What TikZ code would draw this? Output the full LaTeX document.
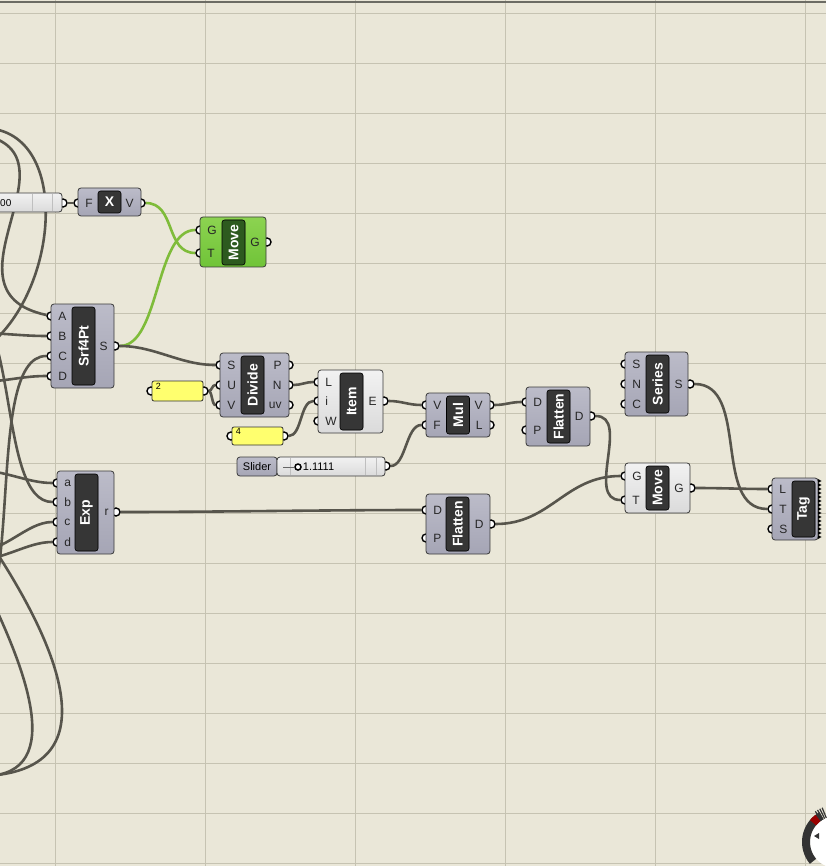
\documentclass[tikz,border=0pt]{standalone}
\usepackage{fontspec}
\setmainfont{Liberation Sans}
\usepackage{tikz}
\usetikzlibrary{positioning,calc}
\definecolor{canvas}{HTML}{EAE7D8}
\definecolor{gridc}{HTML}{C6C3B2}
\definecolor{topedge}{HTML}{6C6C64}
\definecolor{wirec}{HTML}{57554C}
\definecolor{wireg}{HTML}{7FBC3A}
\definecolor{capc}{HTML}{363636}
\definecolor{capgreen}{HTML}{2D5A1F}
\definecolor{bodyedge}{HTML}{3A3A3A}
\definecolor{bodyhi}{HTML}{E6E6EC}
\definecolor{bodytop}{HTML}{BDBDCA}
\definecolor{bodybot}{HTML}{9A9AAB}
\definecolor{lbodytop}{HTML}{F4F4F4}
\definecolor{lbodybot}{HTML}{CFCFCF}
\definecolor{greenhi}{HTML}{C6F08E}
\definecolor{greentop}{HTML}{8ED452}
\definecolor{greenbot}{HTML}{62BC2C}
\definecolor{panely}{HTML}{FFFF6E}
\pgfdeclareverticalshading{bodysh}{100bp}{color(0bp)=(bodybot); color(78bp)=(bodytop); color(88bp)=(bodyhi); color(100bp)=(bodyhi)}
\pgfdeclareverticalshading{lbodysh}{100bp}{color(0bp)=(lbodybot); color(80bp)=(lbodytop); color(100bp)=(white)}
\pgfdeclareverticalshading{gbodysh}{100bp}{color(0bp)=(greenbot); color(78bp)=(greentop); color(88bp)=(greenhi); color(100bp)=(greenhi)}
\pgfdeclarehorizontalshading{capsh}{100bp}{color(0bp)=(capc); color(84bp)=(capc); color(92bp)=(capc!60!white); color(100bp)=(capc!45!white)}
\pgfdeclarehorizontalshading{capgsh}{100bp}{color(0bp)=(capgreen); color(84bp)=(capgreen); color(92bp)=(capgreen!60!white); color(100bp)=(capgreen!45!white)}
\pgfdeclarelayer{grid}
\pgfdeclarelayer{wires}
\pgfdeclarelayer{ports}
\pgfsetlayers{grid,wires,ports,main}
\newcommand{\pt}[3]{\begin{pgfonlayer}{ports}\node[port] (#1) at (#2,#3) {};\end{pgfonlayer}}
\newcommand{\inp}[4]{\pt{#1}{#2}{#3}\node[plbl, right=2pt of #1] (#1-t) {#4};}
\newcommand{\outp}[4]{\pt{#1}{#2}{#3}\node[plbl, left=2pt of #1] (#1-t) {#4};}

\begin{document}
\begin{tikzpicture}[
  x=1pt, y=-1pt,
  body/.style={draw=bodyedge, line width=0.8pt, rounded corners=3pt, shade, shading=bodysh, inner sep=0},
  lbody/.style={body, shading=lbodysh},
  gbody/.style={body, shading=gbodysh},
  capsbase/.style={draw=black, line width=0.6pt, rounded corners=2.5pt, fill=capc, inner sep=0, text=white, font=\fontsize{14}{14}\selectfont\bfseries},
  capsule/.style={capsbase, shade, shading=capsh, rotate=90, minimum height=23},
  port/.style={circle, minimum size=8pt, inner sep=0, fill=white, draw=black, line width=1.4pt},
  plbl/.style={inner sep=0.5pt, font=\fontsize{12}{12}\selectfont, text=black!85},
  ptxt/.style={inner sep=0, font=\fontsize{9}{9}\selectfont},
  panel/.style={draw=black!80, line width=0.8pt, rounded corners=2pt, fill=panely, inner sep=0},
  grip/.style={circle, minimum size=6pt, inner sep=0, fill=white, draw=black, line width=1.5pt},
  tickln/.style={draw=black!25, line width=0.6pt},
  wire/.style={draw=wirec, line width=2.6pt},
  gwire/.style={wire, draw=wireg},
  ghw/.style={to path={.. controls +(#1,0) and +(-#1,0) .. (\tikztotarget) \tikztonodes}},
  ghw/.default=30
]
\useasboundingbox (0,0) rectangle (826,866);
\begin{pgfonlayer}{grid}
\fill[canvas] (0,0) rectangle (826,866);
\foreach \gx in {55,205,...,805} \draw[gridc, line width=0.8pt] (\gx,0) -- (\gx,866);
\foreach \gy in {13,63,...,863} \draw[gridc, line width=0.8pt] (0,\gy) -- (826,\gy);
\draw[topedge, line width=2pt] (0,2.5) -- (826,2.5);
\end{pgfonlayer}

% slider, expression, green move
\node[lbody, minimum width=102, minimum height=19] (sl0) at (11,202.5) {};
\draw[tickln] (32,194) -- (32,211);
\draw[tickln] (52,194) -- (52,211);
\node[anchor=west, inner sep=0, font=\fontsize{10}{10}\selectfont] (sl0-t) at (0,203) {00};
\pt{sl0-o}{63}{203}

\node[body, minimum width=63, minimum height=28] (expx) at (109.5,202) {};
\node[capsbase, minimum width=23, minimum height=22] (expx-c) at (109.5,202) {X};
\inp{expx-iF}{78}{203}{F}
\outp{expx-oV}{141}{203}{V}

\node[gbody, minimum width=66, minimum height=50] (mova) at (233,242) {};
\node[capsule, shading=capgsh, minimum width=45] (mova-c) at (233.5,242.5) {Move};
\inp{mova-iG}{200}{230}{G}
\inp{mova-iT}{200}{253}{T}
\outp{mova-oG}{267}{242}{G}

% surface, divide, item, mul
\node[body, minimum width=63, minimum height=84] (srf) at (82.5,346) {};
\node[capsule, minimum width=78] (srf-c) at (83.5,346) {Srf4Pt};
\foreach \n/\y in {A/316,B/336,C/356,D/376} {\inp{srf-i\n}{51}{\y}{\n}}
\outp{srf-oS}{115}{346}{S}

\node[body, minimum width=69, minimum height=64] (div) at (254.5,385) {};
\node[capsule, minimum width=58] (div-c) at (252.5,385) {Divide};
\foreach \n/\y in {S/365,U/385,V/405} {\inp{div-i\n}{220}{\y}{\n}}
\foreach \n/\y in {P/365,N/385,uv/405} {\outp{div-o\n}{289}{\y}{\n}}

\node[panel, minimum width=51, minimum height=20] (p2) at (177.5,391) {};
\node[ptxt, below right=2pt and 4pt of p2.north west] (p2-t) {2};
\pt{p2-i}{151}{391}
\pt{p2-o}{204}{391}
\node[panel, minimum width=51, minimum height=18] (p4) at (257.5,436) {};
\node[ptxt, below right=2pt and 4pt of p4.north west] (p4-t) {4};
\pt{p4-i}{231}{436}
\pt{p4-o}{284}{436}

\node[lbody, minimum width=65, minimum height=63] (item) at (350.5,401.5) {};
\node[capsule, minimum width=57] (item-c) at (351.5,401.5) {Item};
\foreach \n/\y in {L/382,i/401,W/421} {\inp{item-i\n}{318}{\y}{\n}}
\outp{item-oE}{384}{401}{E}

\node[body, minimum width=40, minimum height=19, font=\fontsize{11}{11}\selectfont] (sld-n) at (257,466.5) {Slider};
\node[lbody, minimum width=108, minimum height=19] (sld) at (331,466.5) {};
\foreach \tx in {290,365,376} \draw[tickln] (\tx,458) -- (\tx,475);
\node[grip] (sld-g) at (298,467) {};
\draw[black!60, line width=0.8pt] (283,467) -- (sld-g);
\node[right=1pt of sld-g, inner sep=0, font=\fontsize{11}{11}\selectfont] (sld-v) {1.1111};
\pt{sld-o}{386}{466}

\node[body, minimum width=64, minimum height=44] (mul) at (458,415) {};
\node[capsule, minimum width=38] (mul-c) at (458,415) {Mul};
\foreach \n/\y in {V/405,F/425} {\inp{mul-i\n}{426}{\y}{\n}}
\foreach \n/\y in {V/405,L/425} {\outp{mul-o\n}{490}{\y}{\n}}

% flatten, series, exp, move, tag
\node[body, minimum width=64, minimum height=59] (fla) at (558,416.5) {};
\node[capsule, minimum width=53] (fla-c) at (558.5,416.5) {Flatten};
\inp{fla-iD}{526}{402}{D}
\inp{fla-iP}{526}{430}{P}
\outp{fla-oD}{591}{416}{D}

\node[body, minimum width=63, minimum height=64] (ser) at (656.5,384) {};
\node[capsule, minimum width=58] (ser-c) at (657.5,384) {Series};
\foreach \n/\y in {S/364,N/384,C/404} {\inp{ser-i\n}{625}{\y}{\n}}
\outp{ser-oS}{690}{384}{S}

\node[body, minimum width=57, minimum height=83] (exp) at (85.5,512.5) {};
\node[capsule, minimum width=77] (exp-c) at (86.5,512.5) {Exp};
\foreach \n/\y in {a/483,b/502,c/522,d/542} {\inp{exp-i\n}{57}{\y}{\n}}
\outp{exp-or}{116}{512}{r}

\node[body, minimum width=64, minimum height=60] (flb) at (458,524) {};
\node[capsule, minimum width=54] (flb-c) at (457.5,524) {Flatten};
\inp{flb-iD}{426}{510}{D}
\inp{flb-iP}{426}{538}{P}
\outp{flb-oD}{491}{524}{D}

\node[lbody, minimum width=65, minimum height=50] (movb) at (657.5,488) {};
\node[capsule, minimum width=44] (movb-c) at (657.5,488) {Move};
\inp{movb-iG}{625}{476}{G}
\inp{movb-iT}{625}{500}{T}
\outp{movb-oG}{691}{488}{G}

\node[body, minimum width=46, minimum height=62] (tag) at (795,509) {};
\node[capsule, minimum width=56] (tag-c) at (803.5,509) {Tag};
\foreach \n/\y in {L/489,T/509,S/529} {\inp{tag-i\n}{772}{\y}{\n}}
\foreach \k in {0,...,14} \fill (818,479+4*\k) -- (821.5,481+4*\k) -- (818,483+4*\k) -- cycle;

% wires
\begin{pgfonlayer}{wires}
\coordinate (w1a) at (-20,128);
\coordinate (w1b) at (-20,352);
\coordinate (w2) at (-30,133);
\coordinate (w3) at (-25,333);
\coordinate (w4) at (-40,640);
\coordinate (w5) at (-25,382);
\coordinate (w6) at (-40,300);
\coordinate (w7) at (-25,470);
\coordinate (w8) at (-25,552);
\coordinate (w9) at (-25,560);
\coordinate (w10a) at (-5,550);
\coordinate (w10b) at (-15,776);
\coordinate (w11a) at (-8,600);
\coordinate (w11b) at (-15,776);
\draw[wire] (w1a) .. controls (75,125) and (60,300) .. (w1b);
\draw[wire] (w2) .. controls (95,145) and (-70,290) .. (srf-iA);
\draw[wire] (w3) to[ghw] (srf-iB);
\draw[wire] (w4) to[ghw=70] (srf-iC);
\draw[wire] (w5) to[ghw] (srf-iD);
\draw[wire] (w6) to[ghw=60] (exp-ib);
\draw[wire] (w7) to[ghw] (exp-ia);
\draw[wire] (w8) to[ghw] (exp-ic);
\draw[wire] (w9) to[ghw] (exp-id);
\draw[wire] (w10a) .. controls (60,650) and (110,770) .. (w10b);
\draw[wire] (w11a) .. controls (20,660) and (70,775) .. (w11b);

\draw[wire] (sl0-o) -- (expx-iF);
\draw[gwire] (expx-oV) to[ghw=35] (mova-iT);
\draw[gwire] (srf-oS) to[ghw=45] (mova-iG);
\draw[wire] (srf-oS) to[ghw=40] (div-iS);
\draw[wire] (p2-o) to[ghw=8] (div-iU);
\draw[wire] (p2-o) to[ghw=8] (div-iV);
\draw[wire] (div-oN) to[ghw=12] (item-iL);
\draw[wire] (p4-o) to[ghw=18] (item-ii);
\draw[wire] (item-oE) to[ghw=18] (mul-iV);
\draw[wire] (sld-o) to[ghw=20] (mul-iF);
\draw[wire] (mul-oV) to[ghw=15] (fla-iD);
\draw[wire] (fla-oD) to[ghw=40] (movb-iT);
\draw[wire] (flb-oD) to[ghw=60] (movb-iG);
\draw[wire] (ser-oS) to[ghw=60] (tag-iT);
\draw[wire] (movb-oG) to[ghw=30] (tag-iL);
\draw[wire] (exp-or) to[ghw=100] (flb-iD);
\end{pgfonlayer}

% navigation dial
\fill[white] (836,842) circle (26);
\draw[black!80, line width=8pt] plot[domain=140:241, samples=40] ({836+30*cos(\x)},{842+30*sin(\x)});
\draw[red!60!black, line width=8pt] plot[domain=220:233, samples=10] ({836+30*cos(\x)},{842+30*sin(\x)});
\foreach \a in {236,240,244,248} \draw[black!80, line width=1.2pt] ({836+26*cos(\a)},{842+26*sin(\a)}) -- ({836+37*cos(\a)},{842+37*sin(\a)});
\fill[black!80] (814,836) -- (819,833) -- (819,839) -- cycle;
\end{tikzpicture}
\end{document}
